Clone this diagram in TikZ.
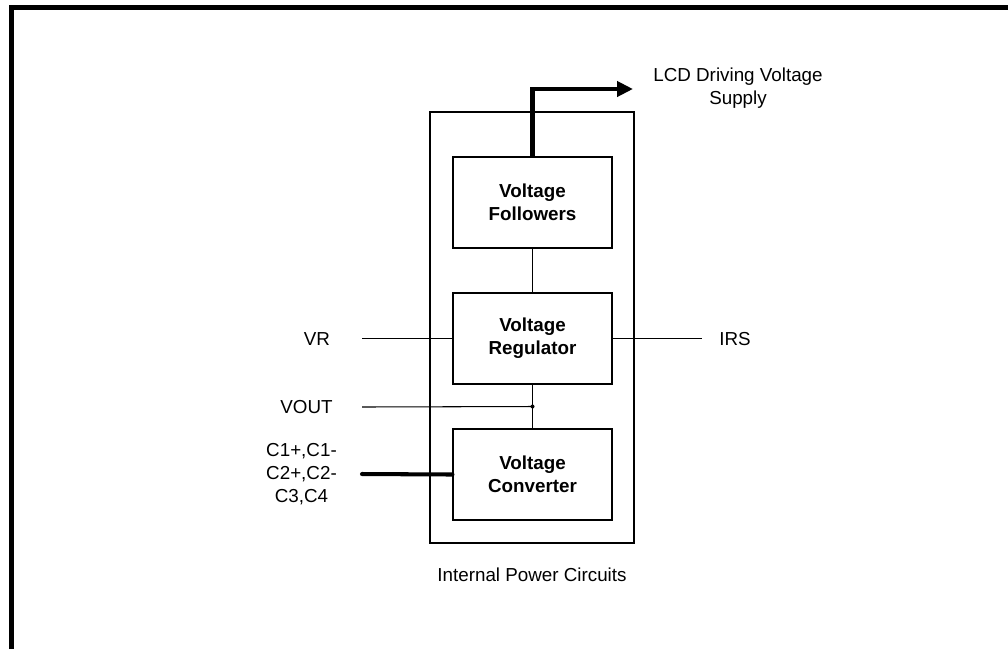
\documentclass[tikz,border=0pt]{standalone}
\usepackage{fontspec}
\setmainfont{Liberation Sans}
\usetikzlibrary{arrows.meta,positioning,calc}

\begin{document}
\begin{tikzpicture}[
        font=\fontsize{10.7}{13}\selectfont,
        >=Latex,
        outerbox/.style={draw, rectangle, line width=0.6pt, minimum height=86.2mm, minimum width=40.8mm},
        blockbox/.style={draw, rectangle, line width=0.6pt, minimum height=18.2mm, minimum width=31.8mm, align=center, font=\fontsize{10.7}{13}\selectfont\bfseries},
        thinline/.style={-, line width=0.6pt},
        busline/.style={-, line width=2.3pt, line cap=round},
        busarrow/.style={-{Triangle[length=3.2mm,width=3mm]}, line width=2.3pt}
    ]

    % Frame and bounding box
    \useasboundingbox (0,0) rectangle (20.16,-12.98);
    \draw[line width=0.11cm] (0.23,-12.98) -- (0.23,-0.15) -- (20.16,-0.15);

    % Power circuit blocks
    \node[outerbox] (power) at (10.64,-6.55) {};
    \node[blockbox] (follow) at (10.65,-4.05) {Voltage\\Followers};
    \node[blockbox] (regul) at (10.65,-6.77) {Voltage\\Regulator};
    \node[blockbox] (conv) at (10.65,-9.49) {Voltage\\Converter};
    \node (powerlbl) at (10.64,-11.5) {Internal Power Circuits};

    % Outside labels
    \node[align=center] (lcd) at (14.76,-1.77) {LCD Driving Voltage\\Supply};
    \node (vr) at (6.34,-6.78) {VR};
    \node (irs) at (14.7,-6.78) {IRS};
    \node (vout) at (6.13,-8.14) {VOUT};
    \node[align=center] (caps) at (6.03,-9.48) {C1+,C1-\\C2+,C2-\\C3,C4};

    % Free ends
    \coordinate (vrend) at (7.24,-6.77);
    \coordinate (irsend) at (14.04,-6.77);
    \coordinate (voutend) at (7.24,-8.14);
    \coordinate (capsend) at (7.24,-9.48);
    \coordinate (junct) at ($(regul.south)!0.5!(conv.north)$);
    \coordinate (lcdend) at (12.66,-1.78);

    % Connections
    \draw[thinline] (follow.south) -- (regul.north);
    \draw[thinline] (regul.south) -- (conv.north);
    \draw[thinline] (vrend) -- (regul.west);
    \draw[thinline] (regul.east) -- (irsend);
    \draw[thinline] (voutend) -- (junct);
    \fill (junct) circle (0.04);
    \draw[busline] (capsend) -- (conv.west);
    \draw[busarrow] (follow.north) |- (lcdend);

    \end{tikzpicture}
\end{document}
